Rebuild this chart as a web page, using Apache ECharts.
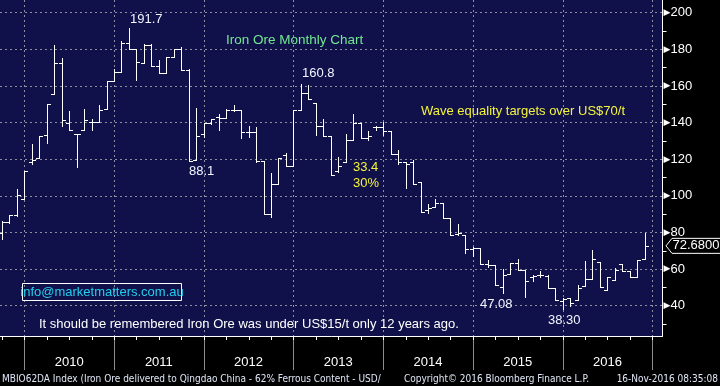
<!DOCTYPE html>
<html><head><meta charset="utf-8">
<script src="https://cdn.jsdelivr.net/npm/echarts@6/dist/echarts.min.js"></script>
<style>html,body{margin:0;padding:0;background:#000;}#c{width:720px;height:386px;}</style>
</head><body><div id="c"></div>
<script>
// Monthly OHLC, Sep 2009 .. Nov 2016 (MBIO62DA Index)
const firstYear = 2009, firstMonth = 9;
const opens  = [79.5,85.6,89.5,98.0,118.5,120.4,133.1,155.8,172.7,139.5,134.0,136.2,140.4,140.4,147.6,162.5,167.5,183.6,180.4,172.7,182.5,170.7,167.3,175.8,180.0,168.9,119.8,134.0,139.5,143.1,142.4,147.0,147.0,135.0,135.0,119.2,89.9,106.6,122.3,116.5,146.8,156.4,150.6,137.9,132.5,113.5,118.5,130.7,139.8,131.8,137.6,137.6,135.3,123.1,118.5,118.5,107.3,92.5,94.0,96.3,87.9,79.3,78.8,71.1,71.5,62.5,62.3,50.1,57.4,63.3,59.6,55.6,56.5,56.3,49.7,42.8,44.2,43.3,51.0,54.7,63.8,48.6,54.1,62.5,59.2,55.6,65.6];
const highs  = [86.4,89.5,103.6,113.3,128.2,132.5,150.4,182.2,175.5,146.2,134.0,147.6,142.2,149.5,162.5,169.1,184.5,191.7,180.4,182.9,182.9,174.4,175.8,180.0,181.3,169.1,148.2,139.5,142.2,144.9,147.3,149.5,147.0,137.9,137.4,119.2,112.4,120.5,123.2,146.8,160.8,160.6,150.6,141.9,132.8,121.3,133.6,144.5,139.8,135.3,138.0,140.4,135.3,124.9,118.5,119.8,107.3,95.3,98.5,96.3,87.9,84.5,78.8,72.0,71.5,64.7,62.3,59.8,63.3,65.6,59.6,56.5,59.2,56.5,49.7,44.2,44.2,51.4,64.4,70.6,63.8,55.9,60.7,62.5,59.2,64.7,79.9];
const lows   = [76.2,84.9,89.1,98.0,117.5,120.4,128.9,155.8,138.2,135.8,115.8,136.2,135.8,140.4,147.6,162.5,167.5,180.4,163.1,172.7,171.1,167.3,167.3,175.8,168.9,118.9,119.8,132.2,139.1,136.2,142.4,146.4,131.4,131.9,118.3,89.9,88.4,106.6,116.5,116.5,146.8,152.8,133.4,132.5,111.3,113.1,118.5,130.7,131.8,130.7,136.2,133.1,123.1,117.6,104.5,106.4,91.3,90.4,94.0,87.9,78.4,78.8,68.9,67.1,62.5,61.4,51.4,47.08,57.4,59.6,45.0,53.4,55.6,49.7,43.1,38.3,40.0,43.3,51.0,54.7,50.1,48.6,54.1,59.2,55.6,55.6,65.6];
const closes = [85.6,89.5,100.7,113.3,119.3,132.5,150.4,172.7,141.3,135.8,134.0,141.6,140.4,147.1,162.5,167.5,183.6,180.4,173.1,182.5,171.1,167.3,175.8,180.0,168.9,118.9,132.7,139.5,142.2,142.7,147.0,147.0,135.0,135.0,119.2,89.9,106.6,120.5,116.5,146.8,156.4,152.8,137.9,132.5,111.3,116.5,130.7,139.8,131.8,132.5,137.6,135.3,123.1,118.5,117.6,106.4,91.3,93.1,96.3,87.9,78.8,79.9,71.1,71.5,62.5,62.3,51.4,56.5,63.3,59.6,53.7,56.0,56.5,49.7,43.1,43.7,41.3,49.7,54.7,65.6,50.1,55.9,59.6,59.2,55.6,64.7,72.68];
const years = [2010, 2011, 2012, 2013, 2014, 2015, 2016];
const yTickLabels = [40, 60, 80, 100, 120, 140, 160, 180, 200];

const monthIndex = (y, m) => (y - firstYear) * 12 + (m - firstMonth);
const ohlc = opens.map((o, i) => [i, o, highs[i], lows[i], closes[i]]);
const yearEnds = [years[0] - 1].concat(years).map(y => [monthIndex(y, 12), 100]);
const quarterEnds = [];
for (let y = firstYear; y <= years[years.length - 1]; y++) for (const m of [3, 6, 9, 12]) {
  const i = monthIndex(y, m); if (i >= 0) quarterEnds.push([i, 100]);
}
const yearMids = years.map(y => [monthIndex(y, 6), 100]);
const last = ohlc.length - 1;

const FONT = '"Liberation Sans", Arial, sans-serif';
const NAVY = '#10104a';
const GRIDC = '#8e8e9c';

const chart = echarts.init(document.getElementById('c'), null, {renderer: 'canvas'});
const px = v => Math.round(v) + 0.5;

chart.setOption({
  backgroundColor: '#000',
  animation: false,
  grid: {left: 0, right: 57.5, top: 0, bottom: 50, show: true, backgroundColor: NAVY, borderWidth: 0, borderColor: 'transparent'},
  xAxis: {type: 'value', min: -0.25, max: 88.37,
    axisLine: {show: true, onZero: false, lineStyle: {color: '#fff', width: 1}},
    axisTick: {show: false}, axisLabel: {show: false}, splitLine: {show: false}},
  yAxis: {type: 'value', position: 'right', min: 23.45, max: 206.94, splitNumber: 9,
    axisLine: {show: true, onZero: false, lineStyle: {color: '#fff', width: 1}},
    axisTick: {show: false},
    minorTick: {show: true, splitNumber: 2, length: 4, lineStyle: {color: '#fff'}},
    splitLine: {show: true, showMinLine: false, showMaxLine: false, lineStyle: {color: GRIDC, type: [2, 3], width: 1}},
    axisLabel: {margin: 1, showMinLabel: false, showMaxLabel: false,
      formatter: v => yTickLabels.indexOf(v) >= 0 ? '{a|▶}{b|' + v + '}' : '',
      rich: {a: {fontFamily: 'DejaVu Sans', fontSize: 9, color: '#fff'},
             b: {fontFamily: FONT, fontSize: 13, color: '#fff'}}}
  },
  series: [
    { // year separators
      type: 'custom', clip: false, z: 1, data: yearEnds, encode: {x: 0, y: 1},
      renderItem: (params, api) => {
        const cs = params.coordSys;
        const x = px(api.coord([api.value(0), api.value(1)])[0]);
        const bottom = cs.y + cs.height;
        if (x > cs.x + cs.width) return null;
        return {type: 'group', children: [
          {type: 'line', shape: {x1: x, y1: cs.y, x2: x, y2: bottom}, style: {stroke: GRIDC, lineWidth: 1, lineDash: [2, 3]}},
          {type: 'line', shape: {x1: x, y1: bottom + 1, x2: x, y2: bottom + 34}, style: {stroke: '#8c8c8c', lineWidth: 1}}
        ]};
      }
    },
    { // quarter ticks
      type: 'custom', clip: false, z: 1, data: quarterEnds, encode: {x: 0, y: 1},
      renderItem: (params, api) => {
        const cs = params.coordSys;
        const x = px(api.coord([api.value(0), api.value(1)])[0]);
        const bottom = cs.y + cs.height;
        return {type: 'line', shape: {x1: x, y1: bottom, x2: x, y2: bottom + 4}, style: {stroke: '#fff', lineWidth: 1}};
      }
    },
    { // year labels
      type: 'custom', clip: false, z: 1, data: yearMids, encode: {x: 0, y: 1},
      renderItem: (params, api) => {
        const cs = params.coordSys;
        const x = api.coord([api.value(0), api.value(1)])[0];
        return {type: 'text', x: x, y: cs.y + cs.height + 26,
          style: {text: String(years[params.dataIndex]), fill: '#fff', font: '13px ' + FONT, align: 'center', verticalAlign: 'middle', textAlign: 'center', textVerticalAlign: 'middle'}};
      }
    },
    { // OHLC bars
      type: 'custom', z: 3, data: ohlc, encode: {x: 0, y: [2, 3]},
      renderItem: (params, api) => {
        const i = api.value(0);
        const o = api.coord([i, api.value(1)]);
        const h = api.coord([i, api.value(2)]);
        const l = api.coord([i, api.value(3)]);
        const c = api.coord([i, api.value(4)]);
        const half = api.size([1, 0])[0] / 2;
        const x = px(o[0]);
        const st = {stroke: '#fff', lineWidth: 1};
        return {type: 'group', children: [
          {type: 'line', shape: {x1: x, y1: Math.round(h[1]), x2: x, y2: Math.round(l[1]) + 1}, style: st},
          {type: 'line', shape: {x1: Math.round(x - half), y1: px(o[1]), x2: x, y2: px(o[1])}, style: st},
          {type: 'line', shape: {x1: x, y1: px(c[1]), x2: Math.round(x + half), y2: px(c[1])}, style: st}
        ]};
      }
    },
    { // last price tag
      type: 'custom', clip: false, z: 4, data: [[last, closes[last]]], encode: {x: 0, y: 1},
      renderItem: (params, api) => {
        const cs = params.coordSys;
        const y = api.coord([api.value(0), api.value(1)])[1];
        const x0 = cs.x + cs.width + 3.5;
        return {type: 'group', children: [
          {type: 'polygon', shape: {points: [[x0, y], [x0 + 6, y - 7.5], [x0 + 60, y - 7.5], [x0 + 60, y + 7.5], [x0 + 6, y + 7.5]]},
            style: {fill: '#000', stroke: '#fff', lineWidth: 1}},
          {type: 'text', x: x0 + 6.5, y: y, style: {text: api.value(1).toFixed(4), fill: '#fff', font: '13px ' + FONT, align: 'left', verticalAlign: 'middle', textAlign: 'left', textVerticalAlign: 'middle'}}
        ]};
      }
    }
  ],
  graphic: [
    {type: 'text', x: 226, y: 40, z: 10, style: {text: 'Iron Ore Monthly Chart', fill: '#72e892', font: '13.5px ' + FONT, verticalAlign: 'middle', textVerticalAlign: 'middle'}},
    {type: 'text', x: 421, y: 111, z: 10, style: {text: 'Wave equality targets over US$70/t', fill: '#f4f43c', font: '13px ' + FONT, verticalAlign: 'middle', textVerticalAlign: 'middle'}},
    {type: 'text', x: 130, y: 19, z: 10, style: {text: '191.7', fill: '#f2f6ff', font: '13px ' + FONT, verticalAlign: 'middle', textVerticalAlign: 'middle'}},
    {type: 'text', x: 189, y: 171, z: 10, style: {text: '88.1', fill: '#f2f6ff', font: '13px ' + FONT, verticalAlign: 'middle', textVerticalAlign: 'middle'}},
    {type: 'text', x: 302, y: 73, z: 10, style: {text: '160.8', fill: '#f2f6ff', font: '13px ' + FONT, verticalAlign: 'middle', textVerticalAlign: 'middle'}},
    {type: 'text', x: 353, y: 167, z: 10, style: {text: '33.4', fill: '#f4f43c', font: '13px ' + FONT, verticalAlign: 'middle', textVerticalAlign: 'middle'}},
    {type: 'text', x: 353, y: 183.5, z: 10, style: {text: '30%', fill: '#f4f43c', font: '13px ' + FONT, verticalAlign: 'middle', textVerticalAlign: 'middle'}},
    {type: 'text', x: 480, y: 304.5, z: 10, style: {text: '47.08', fill: '#f2f6ff', font: '13px ' + FONT, verticalAlign: 'middle', textVerticalAlign: 'middle'}},
    {type: 'text', x: 548, y: 320, z: 10, style: {text: '38.30', fill: '#f2f6ff', font: '13px ' + FONT, verticalAlign: 'middle', textVerticalAlign: 'middle'}},
    {type: 'rect', z: 10, shape: {x: 22.5, y: 283.5, width: 159, height: 17}, style: {fill: 'transparent', stroke: '#fff', lineWidth: 1}},
    {type: 'text', x: 102, y: 292.5, z: 10, style: {text: 'info@marketmatters.com.au', fill: '#22d0ec', font: '13px ' + FONT, align: 'center', textAlign: 'center', verticalAlign: 'middle', textVerticalAlign: 'middle'}},
    {type: 'text', x: 39, y: 324.5, z: 10, style: {text: 'It should be remembered Iron Ore was under US$15/t only 12 years ago.', fill: '#ffffff', font: '13px ' + FONT, verticalAlign: 'middle', textVerticalAlign: 'middle'}},
    {type: 'text', x: 2, y: 379, z: 10, style: {text: 'MBIO62DA Index (Iron Ore delivered to Qingdao China - 62% Ferrous Content - USD/', fill: '#dfe6f5', font: '10px "Liberation Sans Narrow", "DejaVu Sans Condensed", ' + FONT, verticalAlign: 'middle', textVerticalAlign: 'middle'}},
    {type: 'text', x: 404, y: 379, z: 10, style: {text: 'Copyright© 2016 Bloomberg Finance L.P.', fill: '#dfe6f5', font: '10px "Liberation Sans Narrow", "DejaVu Sans Condensed", ' + FONT, verticalAlign: 'middle', textVerticalAlign: 'middle'}},
    {type: 'text', x: 718, y: 379, z: 10, style: {text: '16-Nov-2016 08:35:08', fill: '#dfe6f5', font: '10px "Liberation Sans Narrow", "DejaVu Sans Condensed", ' + FONT, align: 'right', textAlign: 'right', verticalAlign: 'middle', textVerticalAlign: 'middle'}}
  ]
});
</script></body></html>
